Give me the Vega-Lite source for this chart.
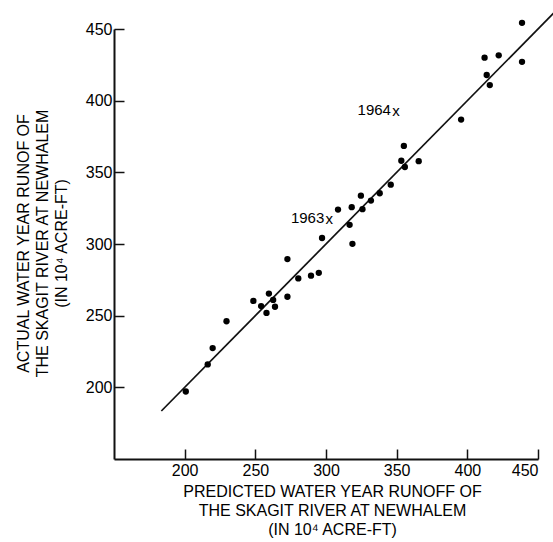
{
  "$schema": "https://vega.github.io/schema/vega-lite/v6.json",
  "width": 424,
  "height": 430,
  "autosize": {"type": "none"},
  "padding": {"left": 114, "top": 29, "right": 15, "bottom": 83},
  "background": "white",
  "config": {
    "view": {"stroke": null},
    "font": "Liberation Sans",
    "axis": {
      "grid": false,
      "domainColor": "#111",
      "domainWidth": 2,
      "tickColor": "#111",
      "tickWidth": 1.5,
      "tickSize": -10,
      "labelFont": "Liberation Sans",
      "labelFontSize": 16,
      "labelColor": "#000",
      "titleFont": "Liberation Sans",
      "titleFontSize": 16,
      "titleFontWeight": "normal",
      "titleColor": "#000",
      "titleLineHeight": 19
    }
  },
  "encoding": {
    "x": {
      "field": "predicted",
      "type": "quantitative",
      "scale": {"domain": [150, 450], "nice": false, "zero": false},
      "axis": {
        "values": [200, 250, 300, 350, 400, 450],
        "labelPadding": 13,
        "title": ["PREDICTED WATER YEAR RUNOFF OF", "THE SKAGIT RIVER AT NEWHALEM", "(IN 10⁴ ACRE-FT)"],
        "titleX": 218,
        "titleY": 37,
        "titleAnchor": null,
        "titleAlign": "center",
        "titleBaseline": "alphabetic"
      }
    },
    "y": {
      "field": "actual",
      "type": "quantitative",
      "scale": {"domain": [150, 450], "nice": false, "zero": false},
      "axis": {
        "values": [200, 250, 300, 350, 400, 450],
        "labelPadding": 12,
        "title": ["ACTUAL WATER YEAR RUNOF OF", "THE SKAGIT RIVER AT NEWHALEM", "(IN 10⁴ ACRE-FT)"],
        "titleX": -86,
        "titleY": 214,
        "titleAngle": -90,
        "titleAlign": "center",
        "titleBaseline": "alphabetic"
      }
    }
  },
  "layer": [
    {
      "data": {"values": [{"predicted": 183.5, "actual": 183.5}, {"predicted": 463, "actual": 463}]},
      "mark": {"type": "line", "color": "#111", "strokeWidth": 1.7, "clip": false},
      "encoding": {}
    },
    {
      "data": {"values": [
        {"predicted": 200.8, "actual": 197.1},
        {"predicted": 216.3, "actual": 216.0},
        {"predicted": 219.8, "actual": 227.4},
        {"predicted": 229.6, "actual": 246.1},
        {"predicted": 248.6, "actual": 260.3},
        {"predicted": 254.1, "actual": 256.7},
        {"predicted": 257.9, "actual": 251.9},
        {"predicted": 259.6, "actual": 265.4},
        {"predicted": 262.6, "actual": 261.0},
        {"predicted": 263.9, "actual": 256.2},
        {"predicted": 272.7, "actual": 263.2},
        {"predicted": 272.7, "actual": 289.5},
        {"predicted": 280.4, "actual": 276.0},
        {"predicted": 289.4, "actual": 277.9},
        {"predicted": 294.9, "actual": 279.9},
        {"predicted": 297.2, "actual": 304.2},
        {"predicted": 308.5, "actual": 324.0},
        {"predicted": 316.7, "actual": 313.4},
        {"predicted": 318.2, "actual": 325.7},
        {"predicted": 318.7, "actual": 300.1},
        {"predicted": 324.7, "actual": 333.7},
        {"predicted": 325.8, "actual": 324.3},
        {"predicted": 331.8, "actual": 330.3},
        {"predicted": 338.0, "actual": 335.4},
        {"predicted": 345.8, "actual": 341.4},
        {"predicted": 353.3, "actual": 358.1},
        {"predicted": 355.1, "actual": 368.4},
        {"predicted": 355.8, "actual": 353.7},
        {"predicted": 365.6, "actual": 357.8},
        {"predicted": 395.6, "actual": 386.8},
        {"predicted": 412.2, "actual": 430.0},
        {"predicted": 413.7, "actual": 417.9},
        {"predicted": 415.9, "actual": 410.9},
        {"predicted": 422.2, "actual": 431.6},
        {"predicted": 438.7, "actual": 454.3},
        {"predicted": 438.7, "actual": 427.1}
      ]},
      "mark": {"type": "circle", "size": 40, "color": "#000", "opacity": 1, "clip": false}
    },
    {
      "data": {"values": [
        {"predicted": 302.3, "actual": 316.3, "year": "1963"},
        {"predicted": 349.5, "actual": 391.2, "year": "1964"}
      ]},
      "layer": [
        {
          "mark": {"type": "text", "text": "x", "fontSize": 15, "font": "Liberation Sans", "color": "#000", "align": "center", "baseline": "middle", "dy": -2}
        },
        {
          "mark": {"type": "text", "fontSize": 15, "font": "Liberation Sans", "color": "#000", "align": "right", "baseline": "middle", "dx": -5, "dy": -3},
          "encoding": {"text": {"field": "year", "type": "nominal"}}
        }
      ]
    }
  ]
}
